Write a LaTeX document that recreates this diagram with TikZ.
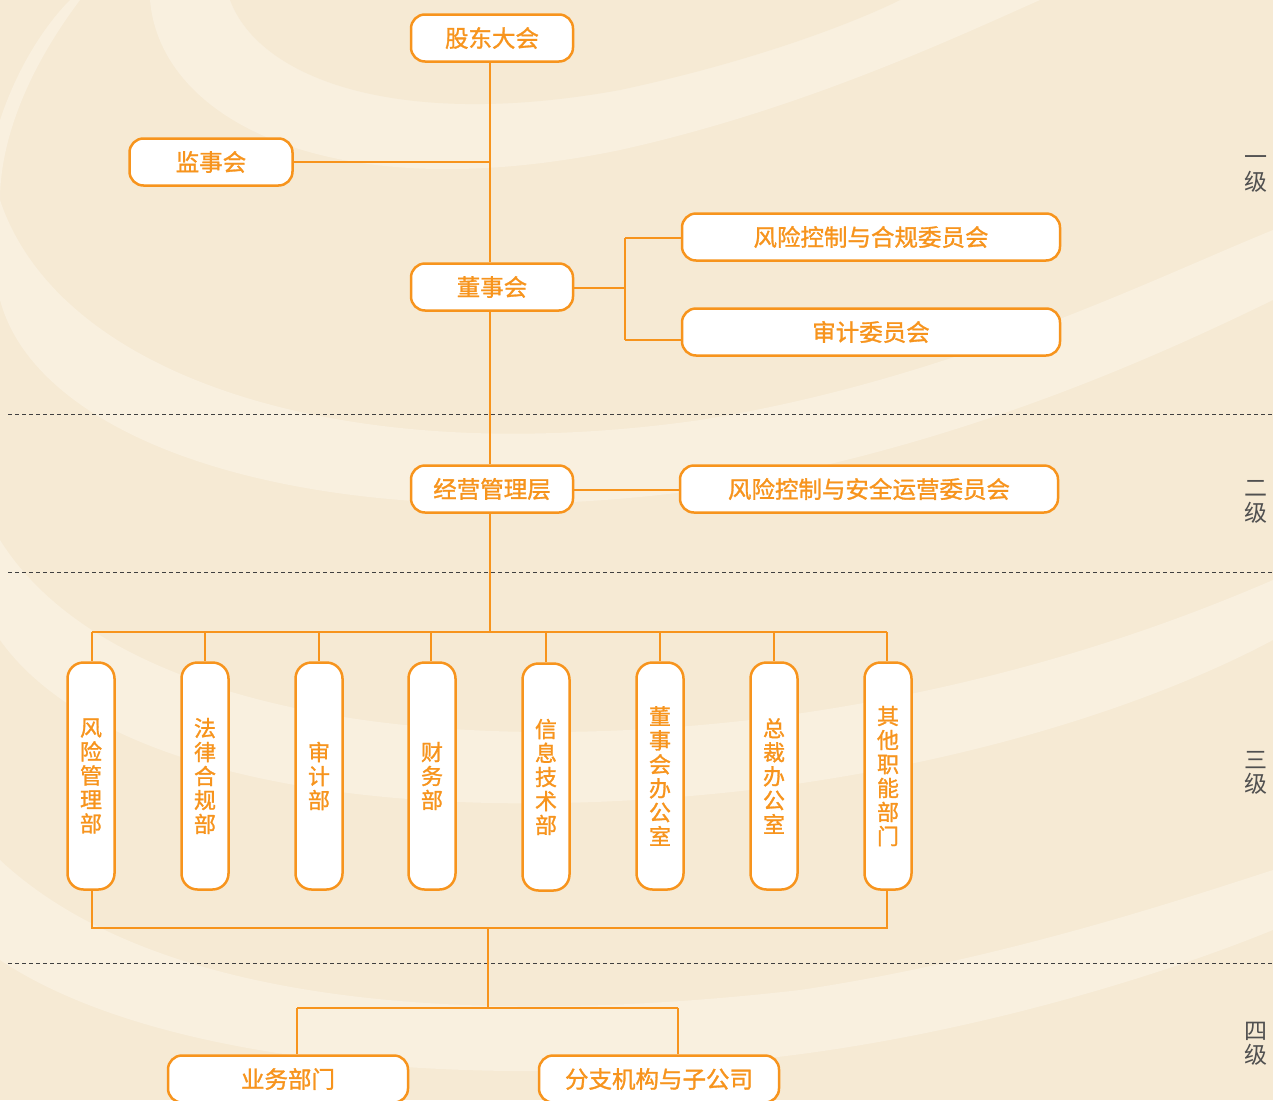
\documentclass[tikz,border=0pt]{standalone}
\usepackage{fontspec}
\newfontfamily\cjk[FakeBold=1.2]{Noto Sans CJK SC}
\newfontfamily\cjkl{Noto Sans CJK SC}
\definecolor{org}{HTML}{F7941D}
\definecolor{bgA}{HTML}{F6EAD4}
\definecolor{bgB}{HTML}{F9F0DF}
\definecolor{lvl}{HTML}{505050}
\begin{document}
\begin{tikzpicture}[x=1pt,y=-1pt,
  hbox/.style={draw=org,line width=2.5pt,fill=white,rounded corners=14pt,minimum height=47pt,inner sep=0pt,text=org,font=\cjk\fontsize{23.5}{24}\selectfont},
  vbox/.style={draw=org,line width=2.5pt,fill=white,rounded corners=16pt,minimum width=47pt,minimum height=227pt,inner sep=0pt,text=org,align=center,font=\cjk\fontsize{22}{24}\selectfont},
  conn/.style={draw=org,line width=2.5pt},
  sep/.style={draw=black!75,line width=0.8pt,dash pattern=on 4pt off 3pt},
  lv/.style={text=lvl,align=center,font=\cjkl\fontsize{23}{24.5}\selectfont}]
\useasboundingbox (0,0) rectangle (1273,1100);
\begin{scope}
\clip (0,0) rectangle (1273,1100);
\fill[bgA] (0,0) rectangle (1273,1100);
% light swirl bands
\fill[bgB] (150,0) .. controls (160,120) and (330,210) .. (620,150) .. controls (800,110) and (950,40) .. (1040,0) -- cycle;
\fill[bgA] (230,0) .. controls (260,80) and (400,130) .. (620,90) .. controls (760,60) and (860,20) .. (900,0) -- cycle;
\fill[bgB] (0,200) .. controls (60,380) and (350,470) .. (700,420) .. controls (950,380) and (1150,280) .. (1273,230) -- (1273,300) .. controls (1150,360) and (950,450) .. (700,490) .. controls (330,540) and (40,450) .. (0,300) -- cycle;
\fill[bgB] (0,540) .. controls (100,700) and (400,760) .. (750,720) .. controls (1000,690) and (1180,620) .. (1273,580) -- (1273,640) .. controls (1180,690) and (1000,760) .. (750,790) .. controls (400,830) and (100,780) .. (0,640) -- cycle;
\fill[bgB] (0,860) .. controls (150,1000) and (450,1030) .. (800,990) .. controls (1000,960) and (1180,900) .. (1273,870) -- (1273,930) .. controls (1150,980) and (950,1040) .. (750,1060) .. controls (450,1090) and (150,1060) .. (0,960) -- cycle;
\fill[bgB] (80,0) .. controls (20,80) and (0,150) .. (0,200) -- (0,120) .. controls (20,60) and (50,20) .. (70,0) -- cycle;
\end{scope}
% separators
\draw[sep] (8,414) -- (1273,414);
\draw[sep] (8,572) -- (1273,572);
\draw[sep] (8,963) -- (1273,963);
% level labels
\node[lv] (l1) at (1256,174) {一\\级};
\node[lv] (l2) at (1256,502) {二\\级};
\node[lv] (l3) at (1256,773) {三\\级};
\node[lv] (l4) at (1256,1044) {四\\级};
% nodes
\node[hbox,minimum width=162pt] (gd) at (492,38) {股东大会};
\node[hbox,minimum width=163pt] (js) at (211,162) {监事会};
\node[hbox,minimum width=162pt] (ds) at (492,287) {董事会};
\node[hbox,minimum width=378pt] (fk) at (871,237) {风险控制与合规委员会};
\node[hbox,minimum width=378pt] (sj) at (871,332) {审计委员会};
\node[hbox,minimum width=162pt] (jy) at (492,489) {经营管理层};
\node[hbox,minimum width=378pt] (fa) at (869,489) {风险控制与安全运营委员会};
\node[vbox] (v1) at (91,776) {风\\险\\管\\理\\部};
\node[vbox] (v2) at (205,776) {法\\律\\合\\规\\部};
\node[vbox] (v3) at (319,776) {审\\计\\部};
\node[vbox] (v4) at (432,776) {财\\务\\部};
\node[vbox] (v5) at (546,777) {信\\息\\技\\术\\部};
\node[vbox] (v6) at (660,776) {董\\事\\会\\办\\公\\室};
\node[vbox] (v7) at (774,776) {总\\裁\\办\\公\\室};
\node[vbox] (v8) at (888,776) {其\\他\\职\\能\\部\\门};
\node[hbox,minimum width=240pt] (yw) at (288,1079) {业务部门};
\node[hbox,minimum width=240pt] (fz) at (659,1079) {分支机构与子公司};
% coordinates
\coordinate (jsj) at (490,162);
\coordinate (top3) at (490,632);
\coordinate (dsr) at (625,288);
\coordinate (dsa) at (625,238);
\coordinate (dsb) at (625,340);
\coordinate (b3) at (488,928);
\coordinate (b4) at (488,1008);
\coordinate (b4l) at (297,1008);
\coordinate (b4r) at (678,1008);
% connectors
\draw[conn] (490,62) -- (ds.north -| 490,0);
\draw[conn] (js.east) -- (jsj);
\draw[conn] (ds.south -| 490,0) -- (jy.north -| 490,0);
\draw[conn] (jy.south -| 490,0) -- (top3);
\draw[conn] (ds.east |- dsr) -- (dsr);
\draw[conn] (dsa) -- (dsb);
\draw[conn] (dsa) -- (fk.west |- dsa);
\draw[conn] (dsb) -- (sj.west |- dsb);
\draw[conn] (jy.east |- 0,490) -- (fa.west |- 0,490);
\draw[conn] (92,632) -- (887,632);
\foreach \v/\x in {v1/92,v2/205,v3/319,v4/431,v5/546,v6/660,v7/774,v8/887}{
  \draw[conn] (\x,632) -- (\v.north -| \x,0);
}
\draw[conn] (v1.south -| 92,0) -- (92,928) -- (887,928) -- (v8.south -| 887,0);
\draw[conn] (b3) -- (b4);
\draw[conn] (b4l) -- (b4r);
\draw[conn] (b4l) -- (yw.north -| b4l);
\draw[conn] (b4r) -- (fz.north -| b4r);
\end{tikzpicture}
\end{document}
